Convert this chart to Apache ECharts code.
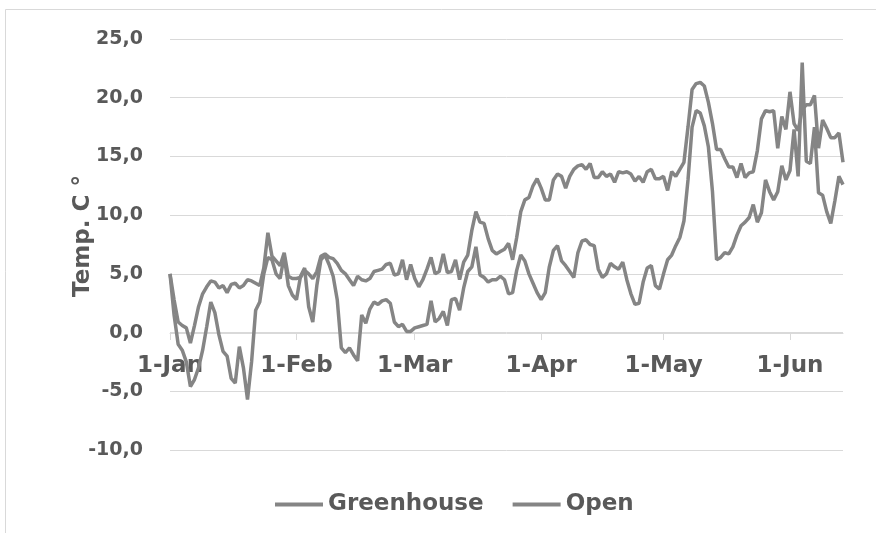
<!DOCTYPE html>
<html>
<head>
<meta charset="utf-8">
<script src="https://cdn.jsdelivr.net/npm/echarts@6/dist/echarts.min.js"></script>
<style>
html,body{margin:0;padding:0;background:#fff;}
#chart{width:876px;height:533px;}
</style>
</head>
<body>
<div id="chart"></div>
<script>
// Daily series from 1-Jan to 14-Jun (leap year)
const startYear = 2016;
const dayCount = 166;
const monthNames = ['Jan','Feb','Mar','Apr','May','Jun','Jul','Aug','Sep','Oct','Nov','Dec'];
const seriesNames = ['Greenhouse', 'Open'];
const yTicks = [-10, -5, 0, 5, 10, 15, 20, 25];

const greenhouse = [
  5.0, 2.8, 0.9, 0.6, 0.4, -0.9, 0.6, 2.2, 3.3, 3.9,
  4.4, 4.3, 3.8, 4.0, 3.4, 4.1, 4.2, 3.8, 4.0, 4.5,
  4.4, 4.2, 4.0, 5.5, 8.5, 6.5, 6.1, 5.7, 6.8, 4.8,
  4.6, 4.6, 4.7, 5.3, 5.0, 4.6, 5.2, 6.5, 6.7, 6.4,
  6.3, 5.9, 5.3, 5.0, 4.5, 4.0, 4.8, 4.5, 4.4, 4.6,
  5.2, 5.3, 5.4, 5.8, 5.9, 4.9, 5.0, 6.2, 4.5, 5.8,
  4.6, 3.9, 4.5, 5.4, 6.4, 5.0, 5.2, 6.7, 5.1, 5.2,
  6.2, 4.5, 6.0, 6.6, 8.7, 10.3, 9.4, 9.3, 8.0, 7.0,
  6.7, 6.9, 7.1, 7.6, 6.2, 8.1, 10.3, 11.3, 11.5, 12.5,
  13.1, 12.3, 11.3, 11.3, 13.0, 13.5, 13.3, 12.3, 13.3, 13.9,
  14.2, 14.3, 13.9, 14.4, 13.2, 13.2, 13.7, 13.3, 13.5, 12.8,
  13.7, 13.6, 13.7, 13.5, 12.9, 13.3, 12.8, 13.7, 13.9, 13.1,
  13.1, 13.3, 12.1, 13.7, 13.3, 13.9, 14.5, 17.5, 20.7, 21.2,
  21.3, 21.0, 19.6, 17.8, 15.6, 15.6, 14.8, 14.1, 14.1, 13.2,
  14.4, 13.2, 13.6, 13.7, 15.5, 18.2, 18.9, 18.8, 18.9, 15.7,
  18.4, 17.3, 20.5, 17.8, 17.2, 19.0, 19.4, 19.4, 20.2, 15.7,
  18.1, 17.4, 16.6, 16.6, 17.0, 14.5
];

const open = [
  5.0, 1.5, -1.0, -1.5, -2.5, -4.6, -4.0, -3.0, -1.5, 0.5,
  2.6, 1.7, -0.2, -1.6, -2.0, -3.9, -4.3, -1.2, -3.0, -5.7,
  -2.5, 1.9, 2.6, 5.0, 6.4, 6.2, 5.0, 4.6, 6.5, 4.0,
  3.2, 2.8, 4.8, 5.5, 2.2, 0.9, 4.0, 6.2, 6.6, 5.8,
  4.8, 2.8, -1.3, -1.7, -1.3, -1.9, -2.4, 1.5, 0.8, 2.0,
  2.6, 2.4, 2.7, 2.8, 2.5, 0.9, 0.5, 0.7, 0.1, 0.1,
  0.4, 0.5, 0.6, 0.7, 2.7, 0.9, 1.2, 1.8, 0.6, 2.8,
  2.9, 1.9, 3.8, 5.2, 5.6, 7.3, 4.9, 4.7, 4.3, 4.5,
  4.5, 4.8, 4.5, 3.3, 3.4, 5.3, 6.6, 6.1, 5.0, 4.2,
  3.4, 2.8, 3.4, 5.6, 7.0, 7.4, 6.1, 5.7, 5.2, 4.7,
  6.8, 7.8, 7.9, 7.5, 7.4, 5.4, 4.7, 5.0, 5.9, 5.6,
  5.4, 6.0, 4.5, 3.3, 2.4, 2.5, 4.3, 5.5, 5.7, 4.0,
  3.7, 5.0, 6.2, 6.6, 7.4, 8.1, 9.5, 13.0, 17.5, 18.9,
  18.7, 17.6, 15.8, 12.0, 6.2, 6.4, 6.8, 6.7, 7.3, 8.3,
  9.1, 9.4, 9.8, 10.9, 9.4, 10.2, 13.0, 12.0, 11.3, 12.0,
  14.2, 13.0, 13.8, 17.3, 13.3, 23.0, 14.6, 14.4, 17.5, 11.9,
  11.7, 10.3, 9.3, 11.2, 13.3, 12.6
];

// category labels "d-Mon"
const categories = [];
for (let i = 0; i < dayCount; i++) {
  const d = new Date(Date.UTC(startYear, 0, 1 + i));
  categories.push(d.getUTCDate() + '-' + monthNames[d.getUTCMonth()]);
}

const FONT = '"DejaVu Sans", "Liberation Sans", Arial, sans-serif';
const TXT = '#595959';
const GRID = '#d9d9d9';
const LINE = '#858585';
const isMonthStart = (idx) => String(categories[idx]).startsWith('1-');

const gridTop = 39, gridBottomPx = 450;
const zeroOffset = -Math.round((gridBottomPx - gridTop) * (0 - yTicks[0]) / (yTicks[yTicks.length - 1] - yTicks[0]));

const chart = echarts.init(document.getElementById('chart'), null, {renderer: 'canvas'});
chart.setOption({
  backgroundColor: '#ffffff',
  animation: false,
  grid: {left: 170, right: 33, top: gridTop, bottom: 533 - gridBottomPx, containLabel: false},
  graphic: [
    {type: 'rect', silent: true, z: -1,
     shape: {x: 5.5, y: 9.5, width: 900, height: 600},
     style: {fill: 'none', stroke: GRID, lineWidth: 1}},
    {type: 'text', silent: true, x: 83, y: 236, rotation: Math.PI / 2,
     style: {text: 'Temp. C °', fill: TXT, font: 'bold 23px ' + FONT,
             textAlign: 'center', textVerticalAlign: 'middle'}}
  ],
  legend: {
    left: 270, top: 488,
    icon: 'rect', itemWidth: 48, itemHeight: 4, itemGap: 29,
    textStyle: {color: TXT, fontFamily: FONT, fontWeight: 'bold', fontSize: 23},
    data: seriesNames
  },
  xAxis: {
    type: 'category',
    data: categories,
    boundaryGap: false,
    offset: zeroOffset,
    axisLine: {onZero: false, lineStyle: {color: GRID, width: 1}},
    axisTick: {show: true, interval: isMonthStart, length: 7, lineStyle: {color: GRID}},
    axisLabel: {interval: isMonthStart, margin: 22, color: TXT, fontFamily: FONT,
                fontWeight: 'bold', fontSize: 23},
    splitLine: {show: false}
  },
  yAxis: {
    type: 'value',
    min: yTicks[0], max: yTicks[yTicks.length - 1], interval: 5,
    axisLine: {show: false},
    axisTick: {show: false},
    axisLabel: {margin: 27, color: TXT, fontFamily: FONT, fontWeight: 'bold', fontSize: 19,
                formatter: v => v.toFixed(1).replace('.', ',')},
    splitLine: {lineStyle: {color: GRID, width: 1}}
  },
  series: [
    {name: seriesNames[0], type: 'line', data: greenhouse, symbol: 'none', smooth: false,
     lineStyle: {color: LINE, width: 3.5}, itemStyle: {color: LINE}},
    {name: seriesNames[1], type: 'line', data: open, symbol: 'none', smooth: false,
     lineStyle: {color: LINE, width: 3.5}, itemStyle: {color: LINE}}
  ]
});
</script>
</body>
</html>
